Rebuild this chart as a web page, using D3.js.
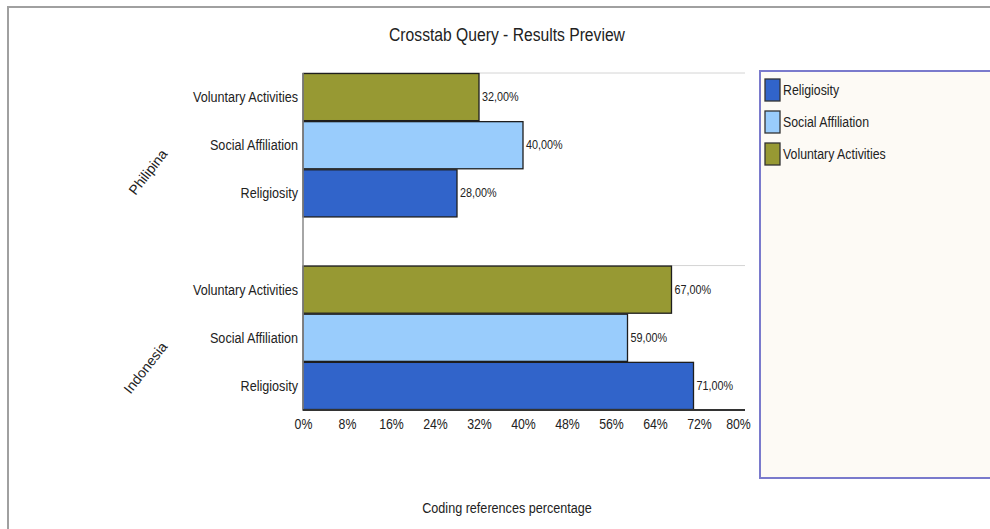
<!DOCTYPE html>
<html>
<head>
<meta charset="utf-8">
<script src="https://cdn.jsdelivr.net/npm/d3@7/dist/d3.min.js"></script>
<style>
  html, body { margin: 0; padding: 0; background: #fff; }
  svg text { font-family: "Liberation Sans", Arial, sans-serif; fill: #222; }
</style>
</head>
<body>
<svg id="chart" width="990" height="529"></svg>
<script>
// Countries (groups) and coding categories, top to bottom within each group
const groups = ["Philipina", "Indonesia"];
const series = ["Voluntary Activities", "Social Affiliation", "Religiosity"];
const legendOrder = ["Religiosity", "Social Affiliation", "Voluntary Activities"];
// Coding references percentage per group, in the order of `series`
const philipinaValues = [32, 40, 28];
const indonesiaValues = [67, 59, 71];
const tickValues = [0, 8, 16, 24, 32, 40, 48, 56, 64, 72, 80];

const colors = {
  "Religiosity": "#3164ca",
  "Social Affiliation": "#99ccfc",
  "Voluntary Activities": "#979933"
};

// Squeeze text horizontally to get a narrow-face look
function condense(sel, factor) {
  sel.each(function () {
    const w = this.getComputedTextLength();
    d3.select(this).attr("textLength", w * factor).attr("lengthAdjust", "spacingAndGlyphs");
  });
}

const valuesByGroup = { "Philipina": philipinaValues, "Indonesia": indonesiaValues };
const rows = [];
groups.forEach((g, gi) => {
  series.forEach((s, si) => rows.push({ key: g + "|" + s, group: g, series: s, value: valuesByGroup[g][si] }));
  if (gi < groups.length - 1) rows.push({ key: "spacer" + gi, spacer: true });
});

const svg = d3.select("#chart");

// Outer frame
svg.append("path")
  .attr("d", "M8,529 V7 H990")
  .attr("fill", "none").attr("stroke", "#a0a0a0").attr("stroke-width", 2);

// Title
svg.append("text")
  .attr("x", 507).attr("y", 41)
  .attr("text-anchor", "middle")
  .attr("font-size", 18)
  .text("Crosstab Query - Results Preview")
  .call(condense, 0.87);

const x = d3.scaleLinear().domain([0, 80]).range([303, 743]);
const y = d3.scaleBand().domain(rows.map(r => r.key)).range([73, 410]).padding(0);

// Group separator gridlines
groups.forEach(g => {
  const yy = y(g + "|" + series[0]);
  svg.append("line")
    .attr("x1", 303).attr("x2", 745)
    .attr("y1", yy).attr("y2", yy)
    .attr("stroke", "#d4d4d4").attr("stroke-width", 1);
});

// Bars
const dataRows = rows.filter(r => !r.spacer);
svg.append("g").selectAll("rect")
  .data(dataRows)
  .join("rect")
  .attr("x", x(0))
  .attr("y", d => y(d.key) + 0.5)
  .attr("width", d => x(d.value) - x(0))
  .attr("height", y.bandwidth() - 1)
  .attr("fill", d => colors[d.series])
  .attr("stroke", "#1e1e1e")
  .attr("stroke-width", 1.3);

// Value labels
svg.append("g").selectAll("text")
  .data(dataRows)
  .join("text")
  .attr("x", d => x(d.value) + 3)
  .attr("y", d => y(d.key) + y.bandwidth() / 2 + 4)
  .attr("font-size", 12)
  .attr("fill", "#333")
  .text(d => d3.format(".2f")(d.value).replace(".", ",") + "%")
  .call(condense, 0.9);

// Category labels
svg.append("g").selectAll("text")
  .data(dataRows)
  .join("text")
  .attr("x", 298)
  .attr("y", d => y(d.key) + y.bandwidth() / 2 + 5)
  .attr("text-anchor", "end")
  .attr("font-size", 14)
  .text(d => d.series)
  .call(condense, 0.9);

// Group labels, rotated
groups.forEach(g => {
  const top = y(g + "|" + series[0]);
  const bottom = y(g + "|" + series[series.length - 1]) + y.bandwidth();
  const cy = (top + bottom) / 2;
  svg.append("text")
    .attr("transform", `translate(168,${cy + 9}) rotate(-52)`)
    .attr("text-anchor", "end")
    .attr("font-size", 14)
    .text(g);
});

// Y axis line
svg.append("line")
  .attr("x1", 303).attr("x2", 303).attr("y1", 73).attr("y2", 411)
  .attr("stroke", "#888").attr("stroke-width", 1.5);

// X axis
const xAxis = svg.append("g")
  .attr("transform", "translate(0,410)")
  .call(d3.axisBottom(x).tickValues(tickValues).tickSize(0).tickPadding(9).tickFormat(d => d + "%"));
xAxis.select(".domain").attr("d", "M303,0H745").attr("stroke", "#333").attr("stroke-width", 1.8);
xAxis.selectAll(".tick text")
  .attr("font-size", 14)
  .attr("fill", "#333")
  .style("font-family", "'Liberation Sans', Arial, sans-serif")
  .attr("dx", d => d === 80 ? -5 : 0)
  .call(condense, 0.88);

// X axis title
svg.append("text")
  .attr("x", 507).attr("y", 513)
  .attr("text-anchor", "middle")
  .attr("font-size", 14)
  .text("Coding references percentage")
  .call(condense, 0.9);

// Legend
const legend = svg.append("g");
legend.append("rect")
  .attr("x", 760).attr("y", 71)
  .attr("width", 240).attr("height", 407)
  .attr("fill", "#fdfaf5")
  .attr("stroke", "#7a7acc").attr("stroke-width", 2);

const li = legend.selectAll("g.item")
  .data(legendOrder)
  .join("g")
  .attr("class", "item")
  .attr("transform", (d, i) => `translate(765,${79 + i * 32})`);
li.append("rect")
  .attr("width", 15).attr("height", 22)
  .attr("fill", d => colors[d])
  .attr("stroke", "#333").attr("stroke-width", 1.3);
li.append("text")
  .attr("x", 18).attr("y", 16)
  .attr("font-size", 14)
  .attr("fill", "#333")
  .text(d => d)
  .call(condense, 0.88);
</script>
</body>
</html>
